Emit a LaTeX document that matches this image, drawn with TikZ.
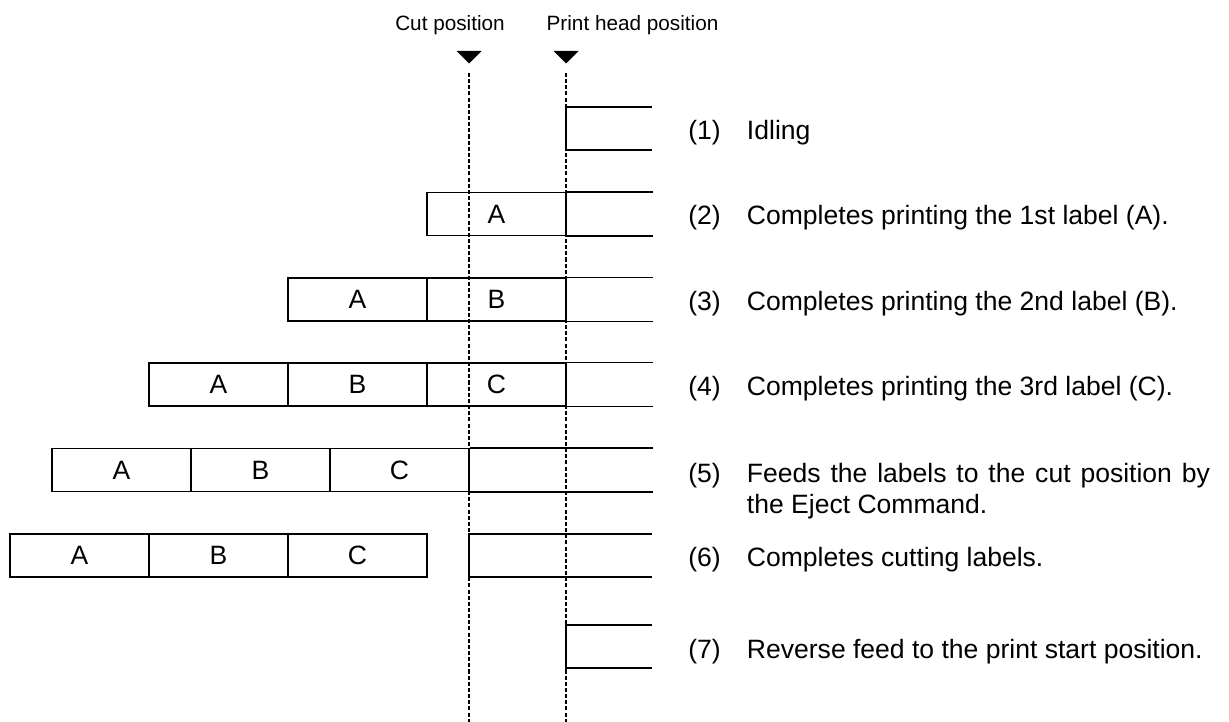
\documentclass[tikz,border=0pt]{standalone}
\usepackage{fontspec}
\setmainfont{Liberation Sans}
\usetikzlibrary{positioning}
\newcommand{\mainsize}{\fontsize{15.1}{18.1}\selectfont}
\newcommand{\headsize}{\fontsize{11.8}{14}\selectfont}

\tikzset{
    cell/.style={draw, line width=0.85pt, minimum width=2.78cm, minimum height=0.86cm, inner sep=0pt, font=\mainsize},
    paper/.style={line width=0.85pt},
    guide/.style={line width=0.6pt, dash pattern=on 2.3pt off 1.2pt},
    stepnum/.style={anchor=base west, inner sep=0pt, font=\mainsize},
    steptext/.style={inner sep=0pt, font=\mainsize},
    headlabel/.style={anchor=base, inner sep=0pt, font=\headsize}
}

\begin{document}
\begin{tikzpicture}[x=0.02cm, y=-0.02cm]
    \useasboundingbox (0,0) rectangle (1229,722);

    % 1. POSITION MARKERS AND GUIDE LINES
    \node[headlabel] (cutlabel) at (450,30.5) {Cut position};
    \node[headlabel] (headlabel) at (632.5,30.5) {Print head position};
    \foreach \x in {469, 566} {
        \fill (\x-12.5,51) -- (\x+12.5,51) -- (\x,63.5) -- cycle;
        \draw[guide] (\x,73) -- (\x,722);
    }

    % 2. LABEL STRIPS (cells drawn row by row)
    \draw[paper] (652,107) -- (566,107) -- (566,150) -- (652,150);

    \node[cell] (c2a) at (496.5,214) {A};
    \draw[paper] (c2a.north east) -- ++(86,0) (c2a.south east) -- ++(86,0);

    \node[cell] (c3a) at (357.5,299.5) {A};
    \node[cell] (c3b) at (496.5,299.5) {B};
    \draw[paper] (c3b.north east) -- ++(86,0) (c3b.south east) -- ++(86,0);

    \node[cell] (c4a) at (218.5,384.5) {A};
    \node[cell] (c4b) at (357.5,384.5) {B};
    \node[cell] (c4c) at (496.5,384.5) {C};
    \draw[paper] (c4c.north east) -- ++(86,0) (c4c.south east) -- ++(86,0);

    \node[cell] (c5a) at (121.5,470) {A};
    \node[cell] (c5b) at (260.5,470) {B};
    \node[cell] (c5c) at (399.5,470) {C};
    \draw[paper] (c5c.north east) -- ++(183,0) (c5c.south east) -- ++(183,0);

    \node[cell] (c6a) at (79.5,555.5) {A};
    \node[cell] (c6b) at (218.5,555.5) {B};
    \node[cell] (c6c) at (357.5,555.5) {C};
    \draw[paper] (652,534) -- (469,534) -- (469,577) -- (652,577);

    \draw[paper] (652,625) -- (566,625) -- (566,668) -- (652,668);

    % 3. STEP DESCRIPTIONS
    \node[stepnum] (n1) at (688,139.5) {(1)};
    \node[steptext, base right=0.51cm of n1] (t1) {Idling};

    \node[stepnum] (n2) at (688,225) {(2)};
    \node[steptext, base right=0.51cm of n2] (t2) {Completes printing the 1st label (A).};

    \node[stepnum] (n3) at (688,310.5) {(3)};
    \node[steptext, base right=0.51cm of n3] (t3) {Completes printing the 2nd label (B).};

    \node[stepnum] (n4) at (688,395.5) {(4)};
    \node[steptext, base right=0.51cm of n4] (t4) {Completes printing the 3rd label (C).};

    \node[stepnum] (n5) at (688,482) {(5)};
    \node[steptext, base right=0.51cm of n5, text width=9.26cm, align=justify] (t5)
        {Feeds the labels to the cut position by the Eject Command.};

    \node[stepnum] (n6) at (688,566.5) {(6)};
    \node[steptext, base right=0.51cm of n6] (t6) {Completes cutting labels.};

    \node[stepnum] (n7) at (688,658) {(7)};
    \node[steptext, base right=0.51cm of n7] (t7) {Reverse feed to the print start position.};

\end{tikzpicture}
\end{document}
